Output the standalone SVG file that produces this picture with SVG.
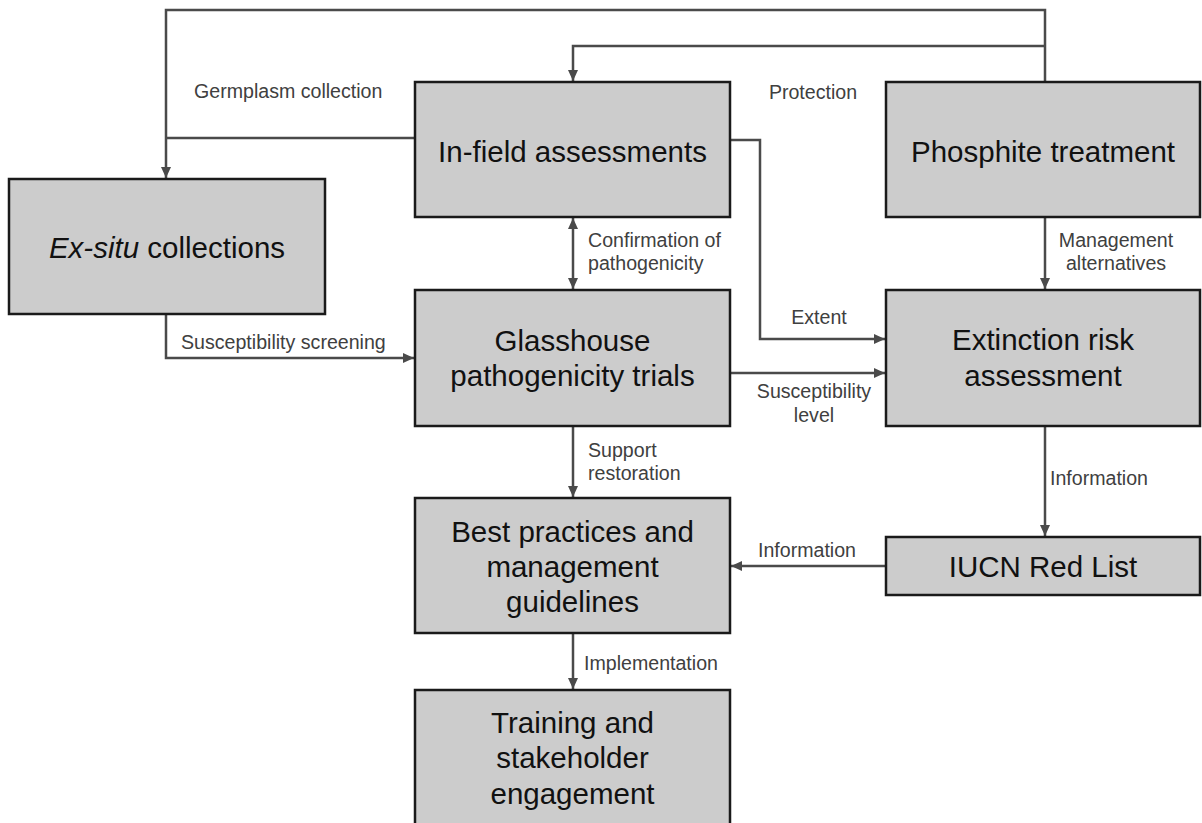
<svg xmlns="http://www.w3.org/2000/svg" width="1202" height="823" viewBox="0 0 1202 823">
<style>
.box{fill:#cccccc;stroke:#1a1a1a;stroke-width:2.5}
.bt{font-family:"Liberation Sans",Arial,sans-serif;font-size:29.5px;fill:#111;text-anchor:middle}
.lb{font-family:"Liberation Sans",Arial,sans-serif;font-size:19.6px;fill:#404040}
.c{fill:none;stroke:#4a4a4a;stroke-width:2.5}
.m{text-anchor:middle}
</style>
<defs>
<marker id="ah" markerUnits="userSpaceOnUse" markerWidth="12" markerHeight="12" viewBox="0 0 12 12" refX="11" refY="6" orient="auto-start-reverse">
<path d="M0,1 L11,6 L0,11 Z" fill="#4a4a4a"/>
</marker>
</defs>
<rect width="1202" height="823" fill="#fff"/>
<g id="connectors">
<polyline class="c" points="1045,82 1045,10 166,10 166,178" marker-end="url(#ah)"/>
<line class="c" x1="415" y1="138" x2="166" y2="138"/>
<polyline class="c" points="1045,46 573,46 573,81" marker-end="url(#ah)"/>
<line class="c" x1="573" y1="218" x2="573" y2="289" marker-start="url(#ah)" marker-end="url(#ah)"/>
<polyline class="c" points="730,140 760,140 760,339 885,339" marker-end="url(#ah)"/>
<line class="c" x1="730" y1="373" x2="885" y2="373" marker-end="url(#ah)"/>
<line class="c" x1="1045" y1="217" x2="1045" y2="289" marker-end="url(#ah)"/>
<polyline class="c" points="166,314 166,358 414,358" marker-end="url(#ah)"/>
<line class="c" x1="573" y1="426" x2="573" y2="497" marker-end="url(#ah)"/>
<line class="c" x1="1045" y1="426" x2="1045" y2="536" marker-end="url(#ah)"/>
<line class="c" x1="886" y1="566" x2="731" y2="566" marker-end="url(#ah)"/>
<line class="c" x1="573" y1="633" x2="573" y2="689" marker-end="url(#ah)"/>
<text class="lb" x="194" y="98">Germplasm collection</text>
<text class="lb m" x="813" y="99">Protection</text>
<text class="lb" x="588" y="247">Confirmation of</text>
<text class="lb" x="588" y="270">pathogenicity</text>
<text class="lb m" x="1116" y="247">Management</text>
<text class="lb m" x="1116" y="270">alternatives</text>
<text class="lb m" x="819" y="324">Extent</text>
<text class="lb" x="181" y="349">Susceptibility screening</text>
<text class="lb m" x="814" y="398">Susceptibility</text>
<text class="lb m" x="814" y="422">level</text>
<text class="lb" x="588" y="457">Support</text>
<text class="lb" x="588" y="480">restoration</text>
<text class="lb" x="1050" y="485">Information</text>
<text class="lb m" x="807" y="557">Information</text>
<text class="lb" x="584" y="670">Implementation</text>
</g>
<g id="exsitu">
<rect class="box" x="9" y="179" width="316" height="135"/>
<text class="bt" x="167" y="258"><tspan font-style="italic">Ex-situ</tspan> collections</text>
</g>
<g id="infield">
<rect class="box" x="415" y="82" width="315" height="135"/>
<text class="bt" x="572.5" y="162">In-field assessments</text>
</g>
<g id="phosphite">
<rect class="box" x="886" y="82" width="314" height="135"/>
<text class="bt" x="1043" y="162">Phosphite treatment</text>
</g>
<g id="glasshouse">
<rect class="box" x="415" y="290" width="315" height="136"/>
<text class="bt" x="572.5" y="351">Glasshouse</text>
<text class="bt" x="572.5" y="386">pathogenicity trials</text>
</g>
<g id="extinction">
<rect class="box" x="886" y="290" width="314" height="136"/>
<text class="bt" x="1043" y="350">Extinction risk</text>
<text class="bt" x="1043" y="386">assessment</text>
</g>
<g id="iucn">
<rect class="box" x="886" y="537" width="314" height="58"/>
<text class="bt" x="1043" y="577">IUCN Red List</text>
</g>
<g id="bestpractices">
<rect class="box" x="415" y="498" width="315" height="135"/>
<text class="bt" x="572.5" y="542">Best practices and</text>
<text class="bt" x="572.5" y="577">management</text>
<text class="bt" x="572.5" y="612">guidelines</text>
</g>
<g id="training">
<rect class="box" x="415" y="690" width="315" height="145"/>
<text class="bt" x="572.5" y="733">Training and</text>
<text class="bt" x="572.5" y="768">stakeholder</text>
<text class="bt" x="572.5" y="804">engagement</text>
</g>
</svg>
